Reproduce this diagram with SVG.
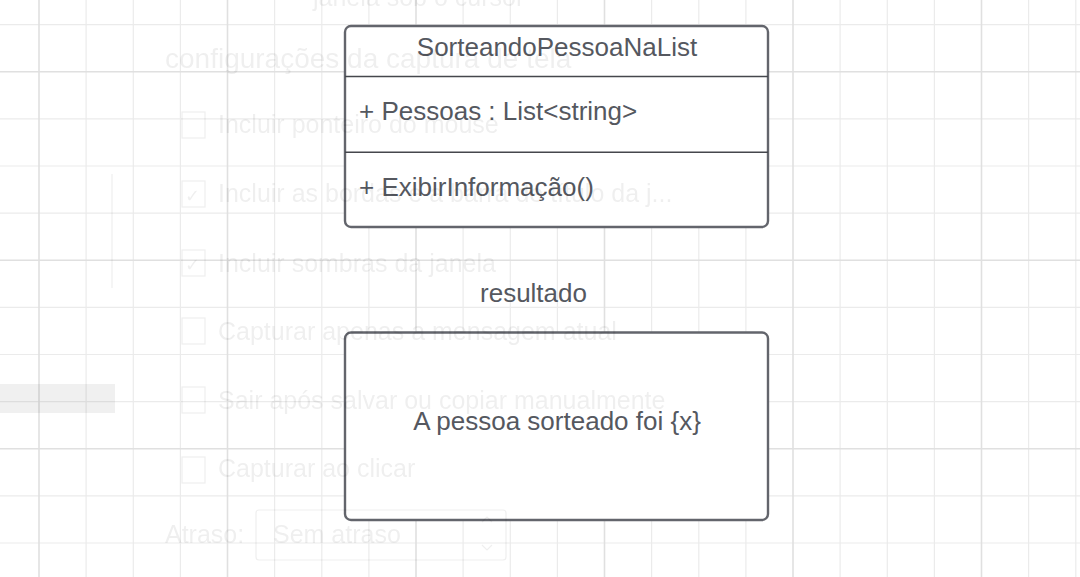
<svg xmlns="http://www.w3.org/2000/svg" width="1080" height="577" viewBox="0 0 1080 577">
<style>
.minor{stroke:#ebebeb;stroke-width:1.2;fill:none}
.major{stroke:#e0e0e0;stroke-width:1.6;fill:none}
.box{fill:#ffffff;stroke:#63656c;stroke-width:2.4}
.div{stroke:#45474d;stroke-width:1.6}
.t{font-family:"Liberation Sans",Arial,sans-serif;font-size:26px;fill:#55585f}
.g{font-family:"Liberation Sans",Arial,sans-serif;font-size:25px;fill:#000}
.cb{fill:none;stroke:#000;stroke-width:1.2}
</style>
<rect width="1080" height="577" fill="#ffffff"/>
<g id="grid">
<path class="minor" d="M86.1 0V577M133.3 0V577M180.4 0V577M274.6 0V577M321.8 0V577M368.9 0V577M463.1 0V577M510.3 0V577M557.4 0V577M651.6 0V577M698.8 0V577M745.9 0V577M840.1 0V577M887.3 0V577M934.4 0V577M1028.6 0V577M1075.8 0V577M0 24.6H1080M0 118.9H1080M0 166H1080M0 213.1H1080M0 307.4H1080M0 354.5H1080M0 401.6H1080M0 495.9H1080M0 543H1080"/>
<path class="major" d="M39 0V577M227.5 0V577M416 0V577M604.5 0V577M793 0V577M981.5 0V577M0 71.7H1080M0 260.2H1080M0 448.7H1080"/>
</g>
<g id="connectors"></g>
<g id="class-SorteandoPessoaNaList">
<rect class="box" x="345" y="26" width="423" height="201" rx="6"/>
<line class="div" x1="345" y1="76.5" x2="768" y2="76.5"/>
<line class="div" x1="345" y1="152.3" x2="768" y2="152.3"/>
<text class="t" x="557" y="56" text-anchor="middle">SorteandoPessoaNaList</text>
<text class="t" x="359" y="120">+ Pessoas : List&lt;string&gt;</text>
<text class="t" x="359" y="196">+ ExibirInformação()</text>
</g>
<g id="resultado">
<text class="t" x="533.5" y="302" text-anchor="middle">resultado</text>
<rect class="box" x="345" y="332.5" width="423" height="187.5" rx="6"/>
<text class="t" x="557" y="430" text-anchor="middle">A pessoa sorteado foi {x}</text>
</g>
<g id="ghost-overlay" opacity="0.065">
<text class="g" x="313" y="6">janela sob o cursor</text>
<text class="g" x="165" y="68" style="font-size:28px">configurações da captura de tela</text>
<rect class="cb" x="182" y="112" width="23" height="26"/>
<text class="g" x="218" y="133">Incluir ponteiro do mouse</text>
<rect class="cb" x="182" y="181" width="23" height="26"/>
<text class="g" x="185" y="202" style="font-family:'DejaVu Sans',sans-serif;font-size:18px">✓</text>
<text class="g" x="218" y="202">Incluir as bordas e a barra de título da j...</text>
<rect class="cb" x="182" y="250" width="23" height="26"/>
<text class="g" x="185" y="271" style="font-family:'DejaVu Sans',sans-serif;font-size:18px">✓</text>
<text class="g" x="218" y="272">Incluir sombras da janela</text>
<rect class="cb" x="182" y="318" width="23" height="26"/>
<text class="g" x="218" y="340">Capturar apenas a mensagem atual</text>
<rect class="cb" x="182" y="387" width="23" height="26"/>
<text class="g" x="218" y="409">Sair após salvar ou copiar manualmente</text>
<rect class="cb" x="182" y="457" width="23" height="26"/>
<text class="g" x="218" y="477">Capturar ao clicar</text>
<text class="g" x="165" y="543">Atraso:</text>
<rect class="cb" x="256" y="510" width="250" height="50" rx="3"/>
<text class="g" x="273" y="543">Sem atraso</text>
<path class="cb" d="M482 522l5 -5l5 5M482 545l5 5l5 -5"/>
<rect x="0" y="384" width="115" height="29" fill="#000" opacity="0.9"/>
<line class="cb" x1="112" y1="174" x2="112" y2="288"/>
</g>
</svg>
